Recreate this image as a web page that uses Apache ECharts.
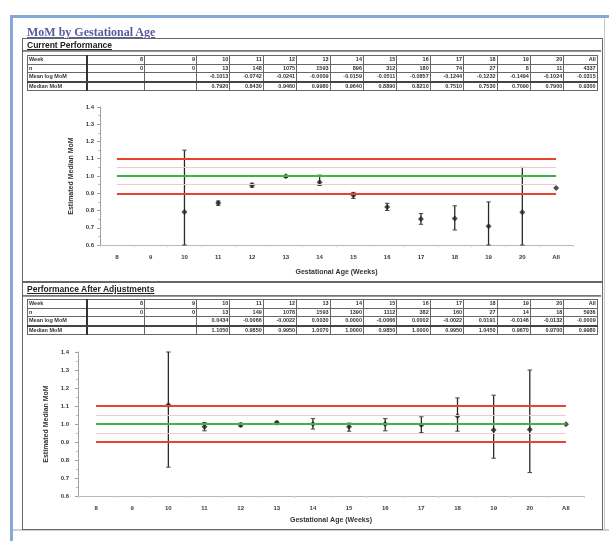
<!DOCTYPE html>
<html>
<head>
<meta charset="utf-8">
<script src="https://cdn.jsdelivr.net/npm/echarts@6/dist/echarts.min.js"></script>
<style>
  html, body { margin:0; padding:0; background:#fff; }
  body { position:relative; width:609px; height:541px; overflow:hidden; font-family:"Liberation Sans", Arial, sans-serif; }
  #chart { position:absolute; left:0; top:0; width:609px; height:541px; z-index:1; }
  .abs { position:absolute; z-index:2; }
  .frame { position:absolute; left:10px; top:15px; width:620px; height:540px; border-left:3px solid #86a9d8; border-top:3px solid #86a9d8; z-index:0; }
  .sheetR { position:absolute; left:604px; top:18px; width:1px; height:512px; background:#c8c8c8; z-index:0; }
  .sheetB { position:absolute; left:13px; top:529px; width:596px; height:2px; background:#cfcfcf; z-index:0; }
  .title { left:27px; top:25px; font-family:"Liberation Serif", "DejaVu Serif", serif; font-weight:bold; font-size:12px; color:#5a5a9c; text-decoration:underline; white-space:nowrap; }
  .box { position:absolute; border:1px solid #666; z-index:0; }
  .sect { font-weight:bold; font-size:8.5px; color:#222; text-decoration:underline; white-space:nowrap; }
  .hr { position:absolute; height:0; border-top:1px solid #777; border-bottom:1px solid #999; z-index:0; }
  table { border-collapse:collapse; table-layout:fixed; }
  td { border:1px solid #666; font-size:5.5px; font-weight:bold; color:#333; padding:0 1px; text-align:right; white-space:nowrap; overflow:hidden; line-height:7.5px; height:7.5px; }
  td.lab { text-align:left; border-right:2px solid #333; }
  tr.r3 td { border-bottom:2px solid #444; }
</style>
</head>
<body>
<div class="frame"></div>
<div class="sheetR"></div>
<div class="sheetB"></div>
<div class="abs title">MoM by Gestational Age</div>

<div class="box" style="left:22px; top:38px; width:579px; height:243px;"></div>
<div class="abs sect" style="left:27px; top:40px;">Current Performance</div>
<div class="hr" style="left:23px; top:50px; width:578px;"></div>
<table class="abs" id="t1" style="left:27px; top:55px; width:570px;"></table>

<div class="box" style="left:22px; top:281px; width:579px; height:247px;"></div>
<div class="abs sect" style="left:27px; top:284px;">Performance After Adjustments</div>
<div class="hr" style="left:23px; top:295px; width:578px;"></div>
<table class="abs" id="t2" style="left:27px; top:299px; width:570px;"></table>

<div id="chart"></div>
<script>
// ---------- data ----------
const weeks = ['8','9','10','11','12','13','14','15','16','17','18','19','20','All'];
const yTicks = [0.6, 0.7, 0.8, 0.9, 1.0, 1.1, 1.2, 1.3, 1.4];

// Current performance
const currN      = [0, 0, 13, 148, 1075, 1593, 896, 312, 180, 74, 27, 8, 11, 4337];
const currMeanLog= [null, null, -0.1013, -0.0742, -0.0241, -0.0009, -0.0159, -0.0511, -0.0857, -0.1244, -0.1232, -0.1494, -0.1024, -0.0315];
const currMedian = [null, null, 0.792, 0.843, 0.946, 0.998, 0.964, 0.889, 0.821, 0.751, 0.753, 0.709, 0.790, 0.930];
const currLow    = [null, null, 0.600, 0.830, 0.935, 0.992, 0.945, 0.870, 0.800, 0.720, 0.687, 0.600, 0.600, null];
const currHigh   = [null, null, 1.150, 0.855, 0.958, 1.004, 1.005, 0.905, 0.842, 0.782, 0.827, 0.850, 1.050, null];

// After adjustments
const adjN       = [0, 0, 13, 149, 1078, 1593, 1390, 1112, 382, 160, 27, 14, 18, 5936];
const adjMeanLog = [null, null, 0.0434, -0.0066, -0.0022, 0.0030, 0.0000, -0.0066, 0.0002, -0.0022, 0.0191, -0.0146, -0.0132, -0.0009];
const adjMedian  = [null, null, 1.105, 0.985, 0.995, 1.007, 1.000, 0.985, 1.000, 0.995, 1.045, 0.967, 0.970, 0.998];
const adjLow     = [null, null, 0.760, 0.962, 0.985, 0.998, 0.972, 0.960, 0.962, 0.952, 0.960, 0.810, 0.730, null];
const adjHigh    = [null, null, 1.400, 1.008, 1.005, 1.015, 1.030, 1.005, 1.030, 1.040, 1.145, 1.160, 1.300, null];

// reference limits
const target = 1.0, upper = 1.1, lower = 0.9, innerUpper = 1.05, innerLower = 0.95;

// ---------- tables ----------
function buildTable(id, n, meanLog, median) {
  const t = document.getElementById(id);
  const widths = [59, 58, 52].concat(new Array(12).fill(33.4));
  let html = '<colgroup>' + widths.map(w => '<col style="width:' + w + 'px">').join('') + '</colgroup>';
  const fmt = v => (v === null ? '' : v.toFixed(4));
  const row = (label, vals, cls) => '<tr' + (cls ? ' class="' + cls + '"' : '') + '><td class="lab">' + label + '</td>' +
      vals.map(v => '<td>' + v + '</td>').join('') + '</tr>';
  html += row('Week', weeks);
  html += row('n', n.map(String));
  html += row('Mean log MoM', meanLog.map(fmt), 'r3');
  html += row('Median MoM', median.map(fmt));
  t.innerHTML = html;
}
buildTable('t1', currN, currMeanLog, currMedian);
buildTable('t2', adjN, adjMeanLog, adjMedian);

// ---------- chart ----------
function pts(med) { return weeks.map((w, i) => med[i] === null ? null : [w, med[i]]).filter(Boolean); }
function bars(lo, hi) { return weeks.map((w, i) => lo[i] === null ? null : [i, lo[i], hi[i]]).filter(Boolean); }

function errRender(params, api) {
  const x = api.value(0);
  const pLo = api.coord([x, api.value(1)]);
  const pHi = api.coord([x, api.value(2)]);
  const cap = 2.2;
  const st = { stroke: '#2a2a2a', lineWidth: 1.3 };
  return { type: 'group', children: [
    { type: 'line', shape: { x1: pLo[0], y1: pLo[1], x2: pHi[0], y2: pHi[1] }, style: st },
    { type: 'line', shape: { x1: pLo[0] - cap, y1: pLo[1], x2: pLo[0] + cap, y2: pLo[1] }, style: { stroke: '#444', lineWidth: 1 } },
    { type: 'line', shape: { x1: pHi[0] - cap, y1: pHi[1], x2: pHi[0] + cap, y2: pHi[1] }, style: { stroke: '#444', lineWidth: 1 } }
  ]};
}

function refLines() {
  const seg = (v, color, width) => [{ coord: ['8', v], lineStyle: { color: color, width: width, type: 'solid' } }, { coord: ['All', v] }];
  return {
    symbol: 'none', silent: true, label: { show: false },
    data: [
      seg(innerUpper, '#f3c9c4', 1),
      seg(innerLower, '#f3c9c4', 1),
      seg(upper, '#e8432e', 2),
      seg(lower, '#e8432e', 2),
      seg(target, '#3fb24a', 2)
    ]
  };
}

const axisFont = { fontSize: 6, fontWeight: 'bold', color: '#3a3a3a', fontFamily: 'Liberation Sans' };
function xAx(gi, gap) {
  return {
    type: 'category', gridIndex: gi, data: weeks, boundaryGap: true,
    axisLine: { lineStyle: { color: '#b8b8b8', width: 1 } },
    axisTick: { show: true, length: 2, lineStyle: { color: '#cfcfcf' } },
    axisLabel: Object.assign({ margin: 9, interval: 0 }, axisFont),
    name: 'Gestational Age (Weeks)', nameLocation: 'middle', nameGap: gap,
    nameTextStyle: { fontSize: 7, fontWeight: 'bold', color: '#333', fontFamily: 'Liberation Sans' }
  };
}
function yAx(gi, gap, margin) {
  return {
    type: 'value', gridIndex: gi, min: yTicks[0], max: yTicks[yTicks.length - 1], interval: 0.1,
    axisLine: { show: true, lineStyle: { color: '#a0a0a0' } },
    axisTick: { show: true, length: 3, lineStyle: { color: '#a0a0a0' } },
    minorTick: { show: true, splitNumber: 2, length: 2, lineStyle: { color: '#c0c0c0' } },
    splitLine: { show: false },
    axisLabel: Object.assign({ margin: margin, formatter: v => v.toFixed(1) }, axisFont),
    name: 'Estimated Median MoM', nameLocation: 'middle', nameGap: gap, nameRotate: 90,
    nameTextStyle: { fontSize: 7, fontWeight: 'bold', color: '#333', fontFamily: 'Liberation Sans' }
  };
}

const chart = echarts.init(document.getElementById('chart'), null, { renderer: 'canvas' });
chart.setOption({
  animation: false,
  backgroundColor: 'transparent',
  grid: [
    { left: 100, top: 107, width: 473, height: 138 },
    { left: 78, top: 352, width: 506, height: 144 }
  ],
  xAxis: [xAx(0, 24), xAx(1, 21)],
  yAxis: [yAx(0, 25, 6), yAx(1, 22, 9)],
  series: [
    { type: 'scatter', xAxisIndex: 0, yAxisIndex: 0, data: [], markLine: refLines(), z: 1 },
    { type: 'custom', xAxisIndex: 0, yAxisIndex: 0, renderItem: errRender, encode: { x: 0, y: [1, 2] }, data: bars(currLow, currHigh), z: 3 },
    { type: 'scatter', xAxisIndex: 0, yAxisIndex: 0, symbol: 'diamond', symbolSize: 6, itemStyle: { color: '#222' }, data: pts(currMedian), z: 4 },
    { type: 'scatter', xAxisIndex: 1, yAxisIndex: 1, data: [], markLine: refLines(), z: 1 },
    { type: 'custom', xAxisIndex: 1, yAxisIndex: 1, renderItem: errRender, encode: { x: 0, y: [1, 2] }, data: bars(adjLow, adjHigh), z: 3 },
    { type: 'scatter', xAxisIndex: 1, yAxisIndex: 1, symbol: 'diamond', symbolSize: 6, itemStyle: { color: '#222' }, data: pts(adjMedian), z: 4 }
  ]
});
</script>
</body>
</html>
